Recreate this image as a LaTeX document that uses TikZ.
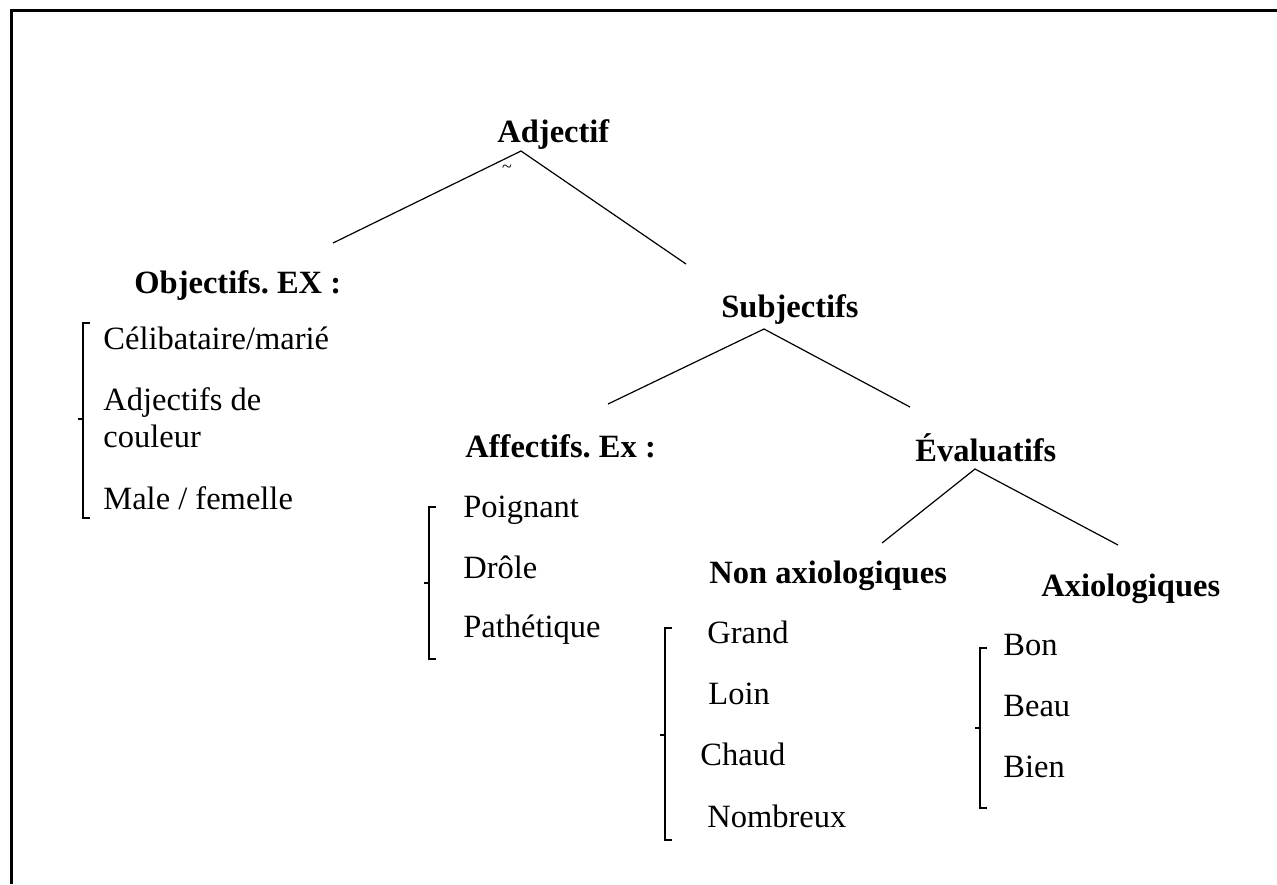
\documentclass[tikz,border=0pt]{standalone}
\usepackage{fontspec}
\setmainfont{Liberation Serif}
\frenchspacing
\begin{document}
\begin{tikzpicture}[x=0.5pt,y=-0.5pt,
  lbl/.style={anchor=base west,inner sep=0pt,font=\fontsize{16.25}{19}\selectfont},
  head/.style={lbl,font=\fontsize{16.25}{19}\selectfont\bfseries},
  branch/.style={line width=0.6pt},
  frame/.style={line width=1.3pt},
  brk/.style={line width=1pt}]
\useasboundingbox (0,0) rectangle (1277,884);
% frame (top and left only)
\coordinate (ftl) at (11.5,10.5);
\coordinate (ftr) at (1277,10.5);
\coordinate (fbl) at (11.5,884);
\draw[frame] (ftr) -- (ftl) -- (fbl);

% headings
\node[head] (adj) at (497,142) {Adjectif};
\node[inner sep=0pt,font=\fontsize{9}{10}\selectfont] (tld) at (507,169) {\textasciitilde};
\node[head] (obj) at (134,293) {Objectifs. EX :};
\node[head] (subj) at (721,317) {Subjectifs};
\node[head] (aff) at (465,457) {Affectifs. Ex :};
\node[head] (eval) at (915,461) {Évaluatifs};
\node[head] (nonax) at (709,583) {Non axiologiques};
\node[head] (ax) at (1041,596) {Axiologiques};

% items
\node[lbl] (celib) at (103,349) {Célibataire/marié};
\node[lbl] (adjde) at (103,410) {Adjectifs de};
\node[lbl] (coul) at (103,447) {couleur};
\node[lbl] (male) at (103,509) {Male / femelle};

\node[lbl] (poig) at (463,517) {Poignant};
\node[lbl] (drole) at (463,578) {Drôle};
\node[lbl] (path) at (463,637) {Pathétique};

\node[lbl] (grand) at (707,643) {Grand};
\node[lbl] (loin) at (708,704) {Loin};
\node[lbl] (chaud) at (700,765) {Chaud};
\node[lbl] (nomb) at (707,827) {Nombreux};

\node[lbl] (bon) at (1003,655) {Bon};
\node[lbl] (beau) at (1003,716) {Beau};
\node[lbl] (bien) at (1003,777) {Bien};

% tree branches
\coordinate (adjA) at (521,151);
\coordinate (objE) at (333,243);
\coordinate (subjE) at (686,264);
\coordinate (subjA) at (764,329);
\coordinate (affE) at (608,404);
\coordinate (evalE) at (910,407);
\coordinate (evalA) at (975,469);
\coordinate (nonaxE) at (882,543);
\coordinate (axE) at (1118,545);
\draw[branch] (objE) -- (adjA) -- (subjE);
\draw[branch] (affE) -- (subjA) -- (evalE);
\draw[branch] (nonaxE) -- (evalA) -- (axE);

% brackets
\newcommand{\brkt}[5]{% x, top, mid, bottom, name
  \coordinate (#5t) at (#1,#2);
  \coordinate (#5m) at (#1,#3);
  \coordinate (#5b) at (#1,#4);
  \draw[brk] ([xshift=3.5pt]#5t) -- (#5t) -- (#5b) -- ([xshift=3.5pt]#5b);
  \draw[brk] (#5m) -- ([xshift=-2.5pt]#5m);
}
\brkt{82.5}{323}{419}{518}{bA}
\brkt{429}{507}{583}{659}{bB}
\brkt{665}{628}{735}{840}{bC}
\brkt{980}{648}{728}{808}{bD}
\end{tikzpicture}
\end{document}
